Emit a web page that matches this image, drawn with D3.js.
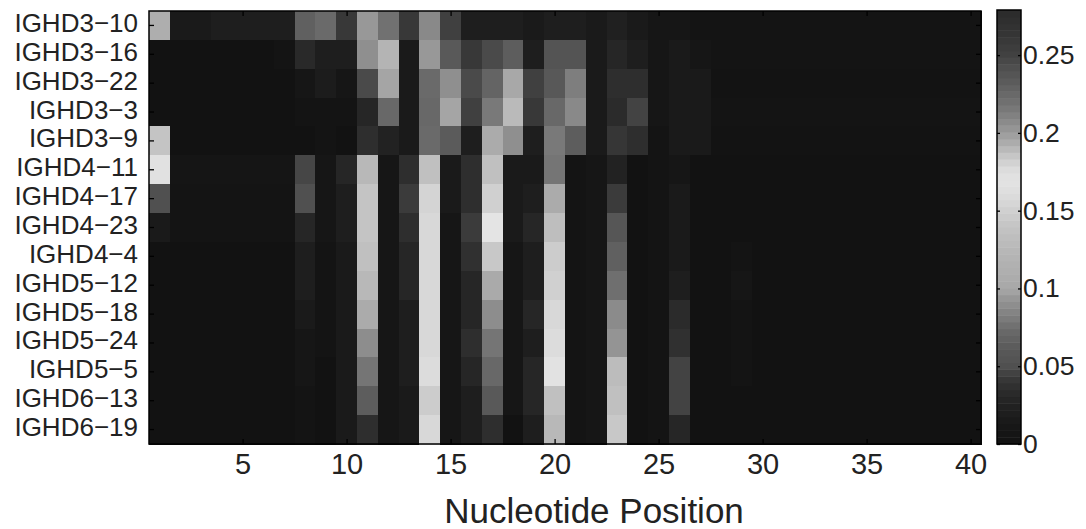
<!DOCTYPE html>
<html>
<head>
<meta charset="utf-8">
<script src="https://cdn.jsdelivr.net/npm/d3@7/dist/d3.min.js"></script>
<style>
  body { margin: 0; background: #fff; }
  text { font-family: "Liberation Sans", Arial, sans-serif; fill: #222; }
</style>
</head>
<body>
<script>
var genes = ["IGHD3\u221210", "IGHD3\u221216", "IGHD3\u221222", "IGHD3\u22123", "IGHD3\u22129",
             "IGHD4\u221211", "IGHD4\u221217", "IGHD4\u221223", "IGHD4\u22124", "IGHD5\u221212",
             "IGHD5\u221218", "IGHD5\u221224", "IGHD5\u22125", "IGHD6\u221213", "IGHD6\u221219"];
var positions = [1,2,3,4,5,6,7,8,9,10,11,12,13,14,15,16,17,18,19,20,
                 21,22,23,24,25,26,27,28,29,30,31,32,33,34,35,36,37,38,39,40];
var xTicks = [5, 10, 15, 20, 25, 30, 35, 40];
var cTicks = [0, 0.05, 0.1, 0.15, 0.2, 0.25];
var cMax = 0.279;

// frequency per gene (rows) and nucleotide position (columns)
var freq = [
  [0.110,0.015,0.015,0.02,0.02,0.02,0.02,0.066,0.073,0.042,0.094,0.076,0.042,0.087,0.045,0.02,0.02,0.02,0.015,0.02,0.02,0.015,0.022,0.015,0.01,0.01,0.005,0.005,0.005,0.005,0.005,0.005,0.005,0.005,0.005,0.005,0.005,0.005,0.005,0.005],
  [0,0,0,0,0,0,0.005,0.032,0.02,0.02,0.09,0.12,0.015,0.094,0.061,0.042,0.048,0.064,0.02,0.055,0.055,0.015,0.03,0.02,0.01,0.015,0.01,0.005,0.005,0.005,0.005,0.005,0.005,0.005,0.005,0.005,0.005,0.005,0.005,0.005],
  [0,0,0,0,0,0,0,0.01,0.018,0.01,0.048,0.099,0.015,0.073,0.09,0.048,0.069,0.1,0.045,0.06,0.082,0.015,0.036,0.036,0.01,0.015,0.015,0.003,0.003,0.003,0.003,0.003,0.003,0.003,0.003,0.003,0.003,0.003,0.003,0.003],
  [0,0,0,0,0,0,0,0.005,0.005,0.005,0.03,0.072,0.015,0.072,0.099,0.045,0.08,0.128,0.042,0.072,0.087,0.015,0.034,0.046,0.01,0.015,0.015,0.005,0.005,0.005,0.005,0.005,0.005,0.005,0.005,0.005,0.005,0.005,0.005,0.005],
  [0.14,0,0,0,0,0,0,0,0.005,0,0.036,0.025,0.015,0.073,0.062,0.02,0.105,0.09,0.02,0.08,0.064,0.015,0.041,0.036,0.005,0.015,0.015,0.003,0.003,0.003,0.003,0.003,0.003,0.003,0.003,0.003,0.003,0.003,0.003,0.003],
  [0.166,0.007,0.007,0.007,0.007,0.007,0.007,0.047,0.01,0.03,0.125,0.01,0.036,0.135,0.015,0.036,0.135,0.015,0.015,0.078,0.005,0.01,0.025,0,0.005,0.01,0,0,0,0,0,0,0,0,0,0,0,0,0,0],
  [0.05,0.005,0.005,0.005,0.005,0.005,0.005,0.05,0.01,0.02,0.14,0.01,0.043,0.153,0.015,0.036,0.15,0.015,0.02,0.105,0.005,0.01,0.043,0,0.005,0.015,0,0,0,0,0,0,0,0,0,0,0,0,0,0],
  [0.015,0.005,0.005,0.005,0.005,0.005,0.005,0.03,0.01,0.02,0.14,0.01,0.036,0.157,0.01,0.043,0.17,0.015,0.03,0.132,0.005,0.01,0.058,0,0.005,0.015,0,0,0,0,0,0,0,0,0,0,0,0,0,0],
  [0,0,0,0,0,0,0,0.02,0.005,0.015,0.135,0.01,0.03,0.157,0.01,0.037,0.143,0.01,0.02,0.147,0.005,0.01,0.066,0,0.005,0.015,0,0,0.005,0,0,0,0,0,0,0,0,0,0,0],
  [0,0,0,0,0,0,0,0.02,0.005,0.015,0.125,0.01,0.03,0.157,0.01,0.03,0.103,0.01,0.02,0.15,0.005,0.01,0.075,0,0.005,0.02,0,0,0.01,0,0,0,0,0,0,0,0,0,0,0],
  [0,0,0,0,0,0,0,0.015,0.005,0.015,0.105,0.01,0.02,0.157,0.01,0.03,0.089,0.01,0.03,0.157,0.005,0.01,0.088,0,0.005,0.034,0,0,0.005,0,0,0,0,0,0,0,0,0,0,0],
  [0,0,0,0,0,0,0,0.01,0.005,0.015,0.089,0.01,0.02,0.157,0.01,0.036,0.078,0.01,0.02,0.16,0.005,0.01,0.092,0,0.005,0.037,0,0,0.005,0,0,0,0,0,0,0,0,0,0,0],
  [0,0,0,0,0,0,0,0.01,0,0.015,0.078,0.01,0.02,0.16,0.01,0.03,0.072,0.01,0.03,0.168,0.005,0.01,0.13,0,0.005,0.046,0,0,0.005,0,0,0,0,0,0,0,0,0,0,0],
  [0,0,0,0,0,0,0,0.005,0,0.015,0.064,0.01,0.015,0.147,0.01,0.02,0.061,0.01,0.03,0.135,0.005,0.01,0.135,0,0.005,0.046,0,0,0,0,0,0,0,0,0,0,0,0,0,0],
  [0,0,0,0,0,0,0,0.005,0,0.015,0.036,0.01,0.015,0.157,0.01,0.02,0.036,0,0.02,0.125,0.005,0.01,0.143,0,0.005,0.03,0,0,0,0,0,0,0,0,0,0,0,0,0,0]
];

// grey colour map: dark -> light -> dark again near the top
var cmapVals = [0, 0.005, 0.01, 0.015, 0.02, 0.03, 0.036, 0.042, 0.045, 0.05, 0.06, 0.072, 0.083, 0.094, 0.1,
                0.12, 0.14, 0.15, 0.16, 0.17, 0.178, 0.186, 0.194, 0.2, 0.21, 0.22, 0.23, 0.24, 0.25, 0.26, 0.28];
var cmapGray = [18, 20, 22, 26, 30, 38, 46, 56, 64, 80, 88, 104, 128, 152, 168,
                180, 196, 208, 220, 228, 218, 196, 172, 156, 132, 112, 96, 82, 66, 56, 42];
var grayScale = d3.scaleLinear().domain(cmapVals).range(cmapGray).clamp(true);
function colour(v) { var g = Math.round(grayScale(v)); return d3.rgb(g, g, g).toString(); }

var width = 1086, height = 529;
var plotL = 149, plotR = 981, plotT = 11, plotB = 444;

var svg = d3.select("body").append("svg")
  .attr("width", width)
  .attr("height", height);

var x = d3.scaleLinear().domain([0.5, 40.5]).range([plotL, plotR]);
var y = d3.scaleBand().domain(genes).range([plotT, plotB]);

var cells = [];
freq.forEach(function(row, i) {
  row.forEach(function(v, j) {
    cells.push({gene: genes[i], pos: positions[j], value: v});
  });
});

// each cell overlaps its neighbours a little so no seams show
svg.append("g").attr("shape-rendering", "crispEdges").selectAll("rect")
  .data(cells)
  .enter()
  .append("rect")
  .attr("x", function(d) { return Math.round(x(d.pos - 0.5)); })
  .attr("y", function(d) { return Math.round(y(d.gene)); })
  .attr("width", function(d) { return Math.round(x(d.pos + 0.5)) - Math.round(x(d.pos - 0.5)) + 1; })
  .attr("height", function(d) { return Math.round(y(d.gene) + y.bandwidth()) - Math.round(y(d.gene)) + 1; })
  .attr("fill", function(d) { return colour(d.value); });

// axes, ticks pointing inward
var xb = svg.append("g").attr("transform", "translate(0," + plotB + ")")
  .call(d3.axisBottom(x).tickValues(xTicks).tickSize(-5).tickSizeOuter(0).tickPadding(9));
var xt = svg.append("g").attr("transform", "translate(0," + plotT + ")")
  .call(d3.axisTop(x).tickValues(xTicks).tickSize(-5).tickSizeOuter(0).tickFormat(""));
var yl = svg.append("g").attr("transform", "translate(" + plotL + ",0)")
  .call(d3.axisLeft(y).tickSize(-5).tickSizeOuter(0).tickPadding(11));
var yr = svg.append("g").attr("transform", "translate(" + plotR + ",0)")
  .call(d3.axisRight(y).tickSize(-5).tickSizeOuter(0).tickFormat(""));

[xb, xt, yl, yr].forEach(function(g) {
  g.select(".domain").remove();
  g.selectAll(".tick line").attr("stroke", "#000").attr("stroke-width", 1.3);
});
xb.selectAll("text").style("font-size", "29px").attr("fill", "#222");
yl.selectAll("text").style("font-size", "26px").attr("fill", "#222").attr("dy", "0.25em");

svg.append("rect")
  .attr("x", plotL).attr("y", plotT)
  .attr("width", plotR - plotL).attr("height", plotB - plotT)
  .attr("fill", "none").attr("stroke", "#000").attr("stroke-width", 1.5);

svg.append("text")
  .attr("x", 594).attr("y", 523)
  .attr("text-anchor", "middle")
  .style("font-size", "35px")
  .text("Nucleotide Position");

// colour bar
var cbL = 997, cbR = 1021, cbT = 10, cbB = 444;
var c = d3.scaleLinear().domain([0, cMax]).range([cbB, cbT]);
var bands = d3.range(64).map(function(i) { return {lo: i * cMax / 64, hi: (i + 1) * cMax / 64}; });

svg.append("g").selectAll("rect")
  .data(bands)
  .enter()
  .append("rect")
  .attr("x", cbL)
  .attr("width", cbR - cbL)
  .attr("y", function(d) { return c(d.hi); })
  .attr("height", function(d) { return c(d.lo) - c(d.hi) + 0.5; })
  .attr("fill", function(d) { return colour((d.lo + d.hi) / 2); });

var cr = svg.append("g").attr("transform", "translate(" + cbR + ",0)")
  .call(d3.axisRight(c).tickValues(cTicks).tickSize(-3).tickSizeOuter(0).tickPadding(2)
    .tickFormat(function(d) { return d === 0 ? "0" : String(d); }));
var cl = svg.append("g").attr("transform", "translate(" + cbL + ",0)")
  .call(d3.axisLeft(c).tickValues(cTicks).tickSize(-3).tickSizeOuter(0).tickFormat(""));
[cr, cl].forEach(function(g) {
  g.select(".domain").remove();
  g.selectAll(".tick line").attr("stroke", "#000").attr("stroke-width", 1.3);
});
cr.selectAll("text").style("font-size", "26.5px").attr("fill", "#222");

svg.append("rect")
  .attr("x", cbL).attr("y", cbT)
  .attr("width", cbR - cbL).attr("height", cbB - cbT)
  .attr("fill", "none").attr("stroke", "#000").attr("stroke-width", 1.5);
</script>
</body>
</html>
